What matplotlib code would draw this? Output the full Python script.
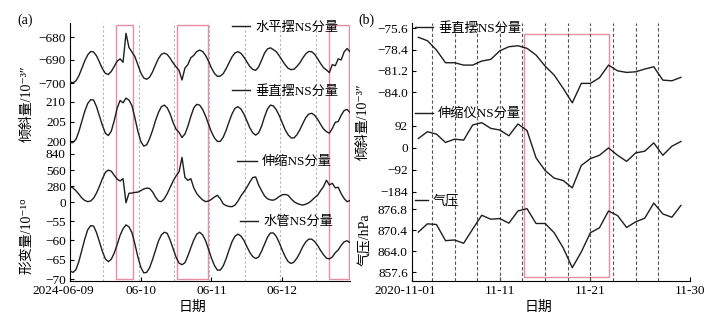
import numpy as np
import matplotlib
matplotlib.use('Agg')
import matplotlib.pyplot as plt
import matplotlib.transforms as mtransforms

plt.rcParams['font.family'] = ['Liberation Serif', 'Noto Sans CJK SC', 'DejaVu Sans']

# ---------------- data, panel (a): hourly samples from 2024-06-09 00:00
hours_a = np.arange(96)
tick_hours_a = [0, 24, 48, 72]
tick_labels_a = ['2024-06-09', '06-10', '06-11', '06-12']

horiz_ns = [-699.5, -699.9, -699.1, -696.9, -693.7, -690.4, -687.8, -686.3, -686.5, -688.2,
            -690.9, -693.8, -695.8, -696.3, -695.0, -692.8, -690.5, -689.5, -691.0, -678.4,
            -684.5, -686.5, -688.5, -692.0, -695.5, -697.8, -698.4, -697.5, -695.2, -692.2,
            -689.4, -687.5, -687.0, -687.6, -689.3, -691.3, -693.0, -694.5, -698.7, -693.5,
            -692.0, -689.0, -688.0, -686.3, -685.7, -686.3, -688.0, -690.5, -693.5, -695.8,
            -697.1, -697.0, -695.9, -693.7, -691.1, -688.6, -686.9, -686.4, -687.1, -688.7,
            -690.8, -692.8, -694.1, -694.5, -693.0, -690.1, -687.0, -685.2, -684.7, -685.5,
            -686.4, -688.2, -690.2, -692.1, -693.6, -694.2, -694.0, -692.8, -691.2, -689.1,
            -687.3, -686.3, -686.4, -687.5, -689.4, -691.5, -693.3, -694.3, -695.5, -692.0,
            -692.5, -689.5, -690.0, -686.5, -685.0, -686.4]

vert_ns = [199.6, 199.6, 200.4, 202.4, 205.0, 207.6, 209.6, 210.6, 210.5, 208.8,
           206.4, 204.0, 202.0, 201.4, 202.5, 205.2, 208.4, 210.4, 209.8, 211.0,
           210.5, 209.1, 206.0, 202.6, 199.9, 198.7, 199.0, 200.6, 202.7, 205.2,
           207.3, 208.8, 209.2, 208.5, 206.9, 204.7, 203.0, 202.2, 200.9, 201.8,
           203.8, 206.3, 208.5, 209.4, 209.2, 208.1, 206.4, 204.3, 202.3, 200.8,
           199.9, 199.9, 201.0, 202.8, 205.0, 207.0, 208.4, 208.8, 208.2, 206.9,
           205.2, 203.4, 202.1, 201.5, 202.1, 203.8, 206.2, 208.2, 209.2, 209.0,
           208.0, 206.5, 204.7, 202.9, 201.6, 200.8, 200.8, 201.6, 202.9, 204.5,
           206.0, 206.9, 207.1, 206.6, 205.6, 204.3, 203.1, 202.4, 202.0, 203.2,
           204.8, 205.0, 206.6, 207.8, 208.1, 207.3]

strain_ns = [270, 250, 200, 140, 75, 30, 10, 20, 70, 160,
             280, 410, 520, 560, 540, 470, 400, 370, 410, -10,
             155, 160, 170, 175, 200, 230, 245, 240, 180, 90,
             20, 10, 60, 150, 260, 370, 460, 530, 780, 430,
             380, 410, 250, 150, 90, 40, 10, 20, 50, 90,
             120, 60, -30, -60, -75, -78, -50, 20, 110, 180,
             260, 350, 430, 440, 300, 200, 110, 60, 40, 35,
             60, 100, 130, 135, 120, 60, 10, -20, -40, -49,
             -35, -10, 30, 80, 120, 200, 270, 383, 300, 330,
             250, 260, 150, 64, 9, 30]

tube_ns = [-67.9, -68.3, -67.6, -65.5, -62.6, -59.7, -57.3, -56.2, -56.3, -58.0,
           -60.4, -62.9, -64.8, -65.5, -64.9, -63.3, -61.1, -58.7, -57.0, -56.0,
           -56.5, -58.0, -60.9, -64.2, -66.9, -68.4, -68.3, -67.1, -65.0, -62.6,
           -60.2, -58.6, -57.9, -58.2, -60.0, -62.2, -64.4, -65.9, -66.3, -65.8,
           -64.0, -61.9, -59.9, -58.4, -57.9, -58.6, -60.1, -62.3, -64.6, -66.5,
           -67.7, -67.7, -66.6, -64.7, -62.4, -60.3, -58.9, -58.4, -58.9, -60.0,
           -61.6, -63.1, -64.2, -64.7, -64.3, -62.8, -61.0, -59.2, -58.1, -58.1,
           -59.0, -60.6, -62.5, -64.2, -65.5, -66.0, -65.6, -64.6, -63.2, -61.6,
           -60.4, -59.7, -59.7, -60.3, -61.3, -62.6, -63.7, -64.6, -64.8, -64.3,
           -63.2, -62.5, -61.3, -60.4, -60.1, -60.6]

guides_a = [11.3, 23.3, 35.3, 47.3, 59.3, 71.3, 83.3]
windows_a = [(15.6, 21.4), (36.3, 46.8), (87.9, 94.7)]

# ---------------- data, panel (b): daily values, 2020-11
days_b = np.arange(1, 31)
tick_days_b = [0.3, 10, 20, 31]
tick_labels_b = ['2020-11-01', '11-11', '11-21', '11-30']

vert_b = [-76.78, -77.23, -78.45, -80.12, -80.12, -80.43, -80.43, -79.90, -79.68, -78.55,
          -78.02, -77.89, -78.23, -79.11, -80.56, -81.74, -83.49, -85.38, -82.83, -82.83,
          -82.10, -80.43, -81.18, -81.39, -81.31, -80.95, -80.65, -82.40, -82.49, -82.04]
strain_b = [39.6, 68, 58, 22.7, 36.8, 32.6, 96.2, 106, 82, 75,
            51, 100.5, 73, -42, -95, -127, -137, -168, -73.6, -45,
            -31, 0, -31, -56.6, -21, -14, 21, -31, 7, 27]
press_b = [869.8, 872.3, 872.1, 867.2, 867.4, 866.4, 870.7, 874.9, 873.7, 873.9,
           872.5, 876.2, 876.9, 872.4, 872.4, 869.6, 865.0, 859.0, 863.8, 869.6,
           871.1, 876.2, 874.8, 871.2, 872.9, 874.0, 878.6, 875.3, 874.3, 877.9]

guides_b = [2.5, 5, 7.5, 10, 12.5, 15, 17.5, 20, 22.5, 25, 27.5]
windows_b = [(12.67, 22.1)]

# ---------------- layout helpers (pixel based)
W, H = 721, 325
FS = 9.5
LC = '#1e1e1e'
PINK = '#e68ea4'

fig = plt.figure(figsize=(W / 100, H / 100), dpi=100)


def fx(px):
    return px / W


def fy(py):
    return 1 - py / H


def box(left, right, top, bottom):
    return [left / W, 1 - bottom / H, (right - left) / W, (bottom - top) / H]


def base_axes(b, xlim, ticks, labels):
    ax = fig.add_axes(b)
    ax.set_xlim(*xlim)
    ax.set_ylim(0, 1)
    ax.spines[['top', 'right']].set_visible(False)
    ax.set_yticks([])
    ax.set_xticks(ticks, labels)
    ax.tick_params(axis='x', direction='in', length=3, pad=3, labelsize=FS)
    first = ax.get_xticklabels()[0]
    first.set_transform(first.get_transform() +
                        mtransforms.ScaledTranslation(-7 / 100, 0, fig.dpi_scale_trans))
    return ax


def band_axes(b, xlim, v1, p1, v2, p2, ticks, fmt, top=23, bottom=281):
    ax = fig.add_axes(b)
    ax.patch.set_visible(False)
    k = (v2 - v1) / (p2 - p1)
    ax.set_ylim(v1 + (bottom - p1) * k, v1 + (top - p1) * k)
    ax.set_xlim(*xlim)
    for s in ax.spines.values():
        s.set_visible(False)
    ax.set_xticks([])
    ax.set_yticks(ticks, [fmt.format(t).replace('-', '\u2212') for t in ticks])
    ax.tick_params(axis='y', direction='in', length=3, pad=3, labelsize=FS, width=0.8)
    return ax


def add_legend(ax, line, label, x, y, hl=1.4):
    ax.legend([line], [label], loc='center left', bbox_to_anchor=(fx(x), fy(y)),
              bbox_transform=fig.transFigure, frameon=False, handlelength=hl,
              handletextpad=0.35, borderpad=0, borderaxespad=0, fontsize=FS)


# ---------------- panel (a)
box_a = box(70, 350, 23, 281)
xlim_a = (0, 95)
base_a = base_axes(box_a, xlim_a, tick_hours_a, tick_labels_a)
for g in guides_a:
    base_a.axvline(g, color='#b4b4b4', lw=0.8, ls=(0, (2, 2)))
for x0, x1 in windows_a:
    base_a.axvspan(x0, x1, ymin=0.008, ymax=0.992, fill=False, ec=PINK, lw=1.0)

a1 = band_axes(box_a, xlim_a, -680, 37, -700, 83, [-680, -690, -700], '{:d}')
l1, = a1.plot(hours_a, horiz_ns, color=LC, lw=1.0)
add_legend(a1, l1, '水平摆NS分量', 232, 28)

a2 = band_axes(box_a, xlim_a, 210, 102, 200, 141, [210, 205, 200], '{:d}')
l2, = a2.plot(hours_a, vert_ns, color=LC, lw=1.0)
add_legend(a2, l2, '垂直摆NS分量', 232, 91)

a3 = band_axes(box_a, xlim_a, 840, 154, 0, 202.2, [840, 560, 280, 0], '{:d}')
l3, = a3.plot(hours_a, strain_ns, color=LC, lw=1.0)
add_legend(a3, l3, '伸缩NS分量', 237, 162, hl=1.55)

a4 = band_axes(box_a, xlim_a, -55, 221, -70, 279, [-55, -60, -65, -70], '{:d}')
l4, = a4.plot(hours_a, tube_ns, color=LC, lw=1.0)
add_legend(a4, l4, '水管NS分量', 240, 222)

fig.text(fx(25), fy(20), '(a)', ha='center', va='center', fontsize=10)
fig.text(fx(27), fy(104), '倾斜量/10\u207b\u00b3\u2033', rotation=90, ha='center', va='center', fontsize=10)
fig.text(fx(27), fy(236), '形变量/10\u207b\u00b9\u2070', rotation=90, ha='center', va='center', fontsize=10)
fig.text(fx(192), fy(307), '日期', ha='center', va='center', fontsize=10)

# ---------------- panel (b)
box_b = box(412, 690, 23, 281)
xlim_b = (0.3, 31.0)
base_b = base_axes(box_b, xlim_b, tick_days_b, tick_labels_b)
for g in guides_b:
    base_b.axvline(g, color='#555555', lw=0.8, ls=(0, (3, 2)))
for x0, x1 in windows_b:
    base_b.axvspan(x0, x1, ymin=0.014, ymax=0.956, fill=False, ec=PINK, lw=1.0)

b1 = band_axes(box_b, xlim_b, -75.6, 28.3, -84.0, 92.3, [-75.6, -78.4, -81.2, -84.0], '{:.1f}')
m1, = b1.plot(days_b, vert_b, color=LC, lw=1.0)
add_legend(b1, m1, '垂直摆NS分量', 415, 28)

b2 = band_axes(box_b, xlim_b, 92, 126, -184, 191.7, [92, 0, -92, -184], '{:d}')
m2, = b2.plot(days_b, strain_b, color=LC, lw=1.0)
add_legend(b2, m2, '伸缩仪NS分量', 415, 114)

b3 = band_axes(box_b, xlim_b, 876.8, 209, 857.6, 272.3, [876.8, 870.4, 864.0, 857.6], '{:.1f}')
m3, = b3.plot(days_b, press_b, color=LC, lw=1.0)
add_legend(b3, m3, '气压', 415, 201, hl=1.0)

fig.text(fx(366), fy(20), '(b)', ha='center', va='center', fontsize=10)
fig.text(fx(363), fy(122), '倾斜量/10\u207b\u00b3\u2033', rotation=90, ha='center', va='center', fontsize=10)
fig.text(fx(365), fy(240), '气压/hPa', rotation=90, ha='center', va='center', fontsize=10)
fig.text(fx(538), fy(307), '日期', ha='center', va='center', fontsize=10)

fig.savefig('out.png', dpi=100)
